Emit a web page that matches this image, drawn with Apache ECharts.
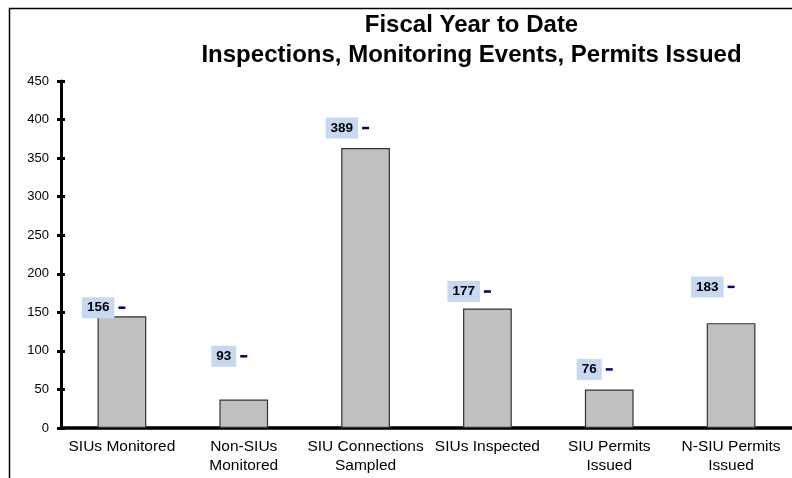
<!DOCTYPE html>
<html>
<head>
<meta charset="utf-8">
<script src="https://cdn.jsdelivr.net/npm/echarts@6/dist/echarts.min.js"></script>
<style>
  html, body { margin: 0; padding: 0; background: #fff; }
  #chart { width: 792px; height: 478px; }
</style>
</head>
<body>
<div id="chart"></div>
<script>
// 数据
var categories = ['SIUs Monitored', 'Non-SIUs\nMonitored', 'SIU Connections\nSampled',
  'SIUs Inspected', 'SIU Permits\nIssued', 'N-SIU Permits\nIssued'];
var barValues = [145, 37, 363, 155, 50, 136];
var labelValues = [156, 93, 389, 177, 76, 183];
var yTicks = [0, 50, 100, 150, 200, 250, 300, 350, 400, 450];

var chart = echarts.init(document.getElementById('chart'));
var font = 'Arial, "Liberation Sans", sans-serif';

chart.setOption({
  animation: false,
  textStyle: { fontFamily: font },
  graphic: [
    {
      type: 'rect', silent: true,
      shape: { x: 9.5, y: 8.5, width: 820, height: 520 },
      style: { fill: 'none', stroke: '#000', lineWidth: 1.5 }
    },
    {
      type: 'text', silent: true, x: 471.5, y: 11,
      style: {
        text: 'Fiscal Year to Date\nInspections, Monitoring Events, Permits Issued',
        font: 'bold 24px ' + font, fill: '#000', textAlign: 'center',
        lineHeight: 29.5
      }
    }
  ],
  grid: { left: 61, top: 81, right: -3.4, bottom: 50 },
  xAxis: [
    {
      type: 'category', data: categories,
      axisLine: { lineStyle: { color: '#000', width: 3.5 } },
      axisTick: { length: 5, lineStyle: { color: '#000', width: 3 } },
      axisLabel: { color: '#000', fontSize: 15.5, lineHeight: 19, margin: 9, interval: 0 }
    },
    {
      type: 'category', data: categories, position: 'bottom',
      axisLine: { show: false },
      axisTick: { inside: true, length: 5, lineStyle: { color: '#000', width: 3 } },
      axisLabel: { show: false }
    }
  ],
  yAxis: [
    {
      type: 'value', min: 0, max: yTicks[yTicks.length - 1], interval: 50,
      axisLine: { show: true, lineStyle: { color: '#000', width: 3 } },
      axisTick: { show: true, length: 4, lineStyle: { color: '#000', width: 3 } },
      axisLabel: { color: '#000', fontSize: 13, margin: 12 },
      splitLine: { show: false }
    },
    {
      type: 'value', min: 0, max: yTicks[yTicks.length - 1], interval: 50, position: 'left',
      axisLine: { show: false },
      axisTick: { show: true, inside: true, length: 4, lineStyle: { color: '#000', width: 3 } },
      axisLabel: { show: false },
      splitLine: { show: false }
    }
  ],
  series: [
    {
      type: 'bar', data: barValues, barWidth: '40%',
      itemStyle: { color: '#C0C0C0', borderColor: '#333', borderWidth: 1.2 },
      silent: true
    },
    {
      type: 'line', data: labelValues, z: 5,
      lineStyle: { width: 0, opacity: 0 },
      symbol: 'rect', symbolSize: [7, 2.5], showSymbol: true,
      itemStyle: { color: '#000080' },
      label: {
        show: true, position: 'left', distance: 4,
        color: '#000', fontWeight: 'bold', fontSize: 13.5,
        backgroundColor: '#C6D9F1', padding: [3, 5, 2, 5], lineHeight: 16
      },
      silent: true
    }
  ]
});
</script>
</body>
</html>
